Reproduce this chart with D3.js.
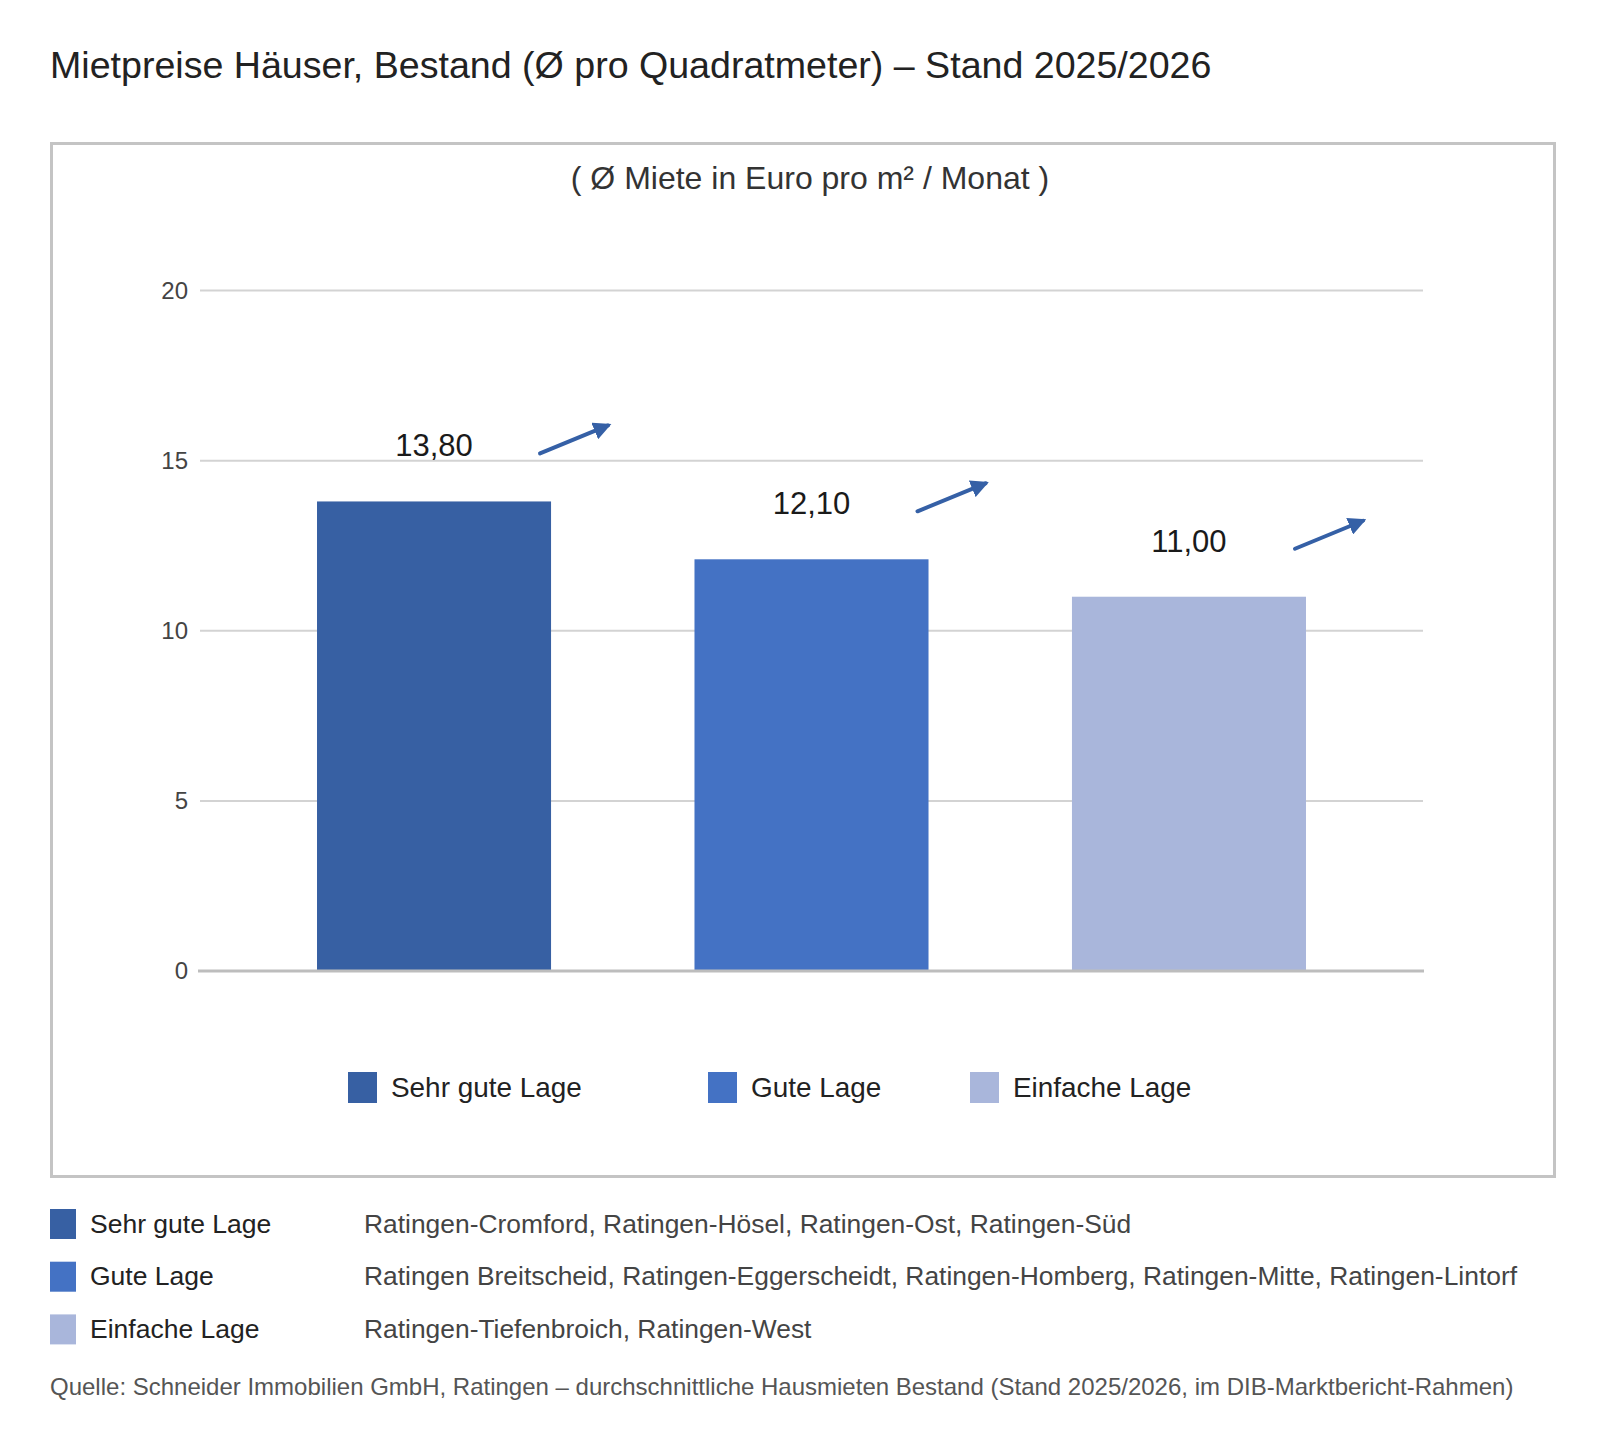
<!DOCTYPE html>
<html>
<head>
<meta charset="utf-8">
<script src="https://cdn.jsdelivr.net/npm/d3@7"></script>
<style>
  body { margin: 0; background: #fff; }
  svg { display: block; font-family: "Liberation Sans", Arial, sans-serif; }
</style>
</head>
<body>
<svg id="chart" width="1605" height="1449"></svg>
<script>
// data
const categories = ["Sehr gute Lage", "Gute Lage", "Einfache Lage"]
const values = [13.80, 12.10, 11.00]
const valueLabels = ["13,80", "12,10", "11,00"]
const colors = ["#3760a3", "#4472c4", "#a9b6db"]
const yTicks = [0, 5, 10, 15, 20]
const districts = [
    "Ratingen-Cromford, Ratingen-Hösel, Ratingen-Ost, Ratingen-Süd",
    "Ratingen Breitscheid, Ratingen-Eggerscheidt, Ratingen-Homberg, Ratingen-Mitte, Ratingen-Lintorf",
    "Ratingen-Tiefenbroich, Ratingen-West"
]
const title = "Mietpreise Häuser, Bestand (Ø pro Quadratmeter) – Stand 2025/2026"
const subtitle = "( Ø Miete in Euro pro m² / Monat )"
const source = "Quelle: Schneider Immobilien GmbH, Ratingen – durchschnittliche Hausmieten Bestand (Stand 2025/2026, im DIB-Marktbericht-Rahmen)"

let svg = d3.select("#chart")

svg.append("text")
    .attr("x", 50).attr("y", 78)
    .attr("font-size", 37.6).attr("fill", "#222")
    .text(title)

// frame
svg.append("rect")
    .attr("x", 51.5).attr("y", 143.5)
    .attr("width", 1503).attr("height", 1033)
    .attr("fill", "none").attr("stroke", "#c4c4c4").attr("stroke-width", 3)

svg.append("text")
    .attr("x", 810).attr("y", 189)
    .attr("text-anchor", "middle")
    .attr("font-size", 32).attr("fill", "#333")
    .text(subtitle)

let x = d3.scaleBand()
    .domain(categories)
    .range([200, 1423])
    .paddingInner(0.38)
    .paddingOuter(0.31)

let y = d3.scaleLinear()
    .domain([0, 20])
    .range([971, 290.5])

// grid
let grid = svg.append("g")
grid.selectAll("line")
    .data(yTicks.filter(d => d > 0))
    .join("line")
    .attr("x1", 200).attr("x2", 1423)
    .attr("y1", d => y(d)).attr("y2", d => y(d))
    .attr("stroke", "#d3d3d3").attr("stroke-width", 2)

let yAxis = svg.append("g")
    .attr("transform", "translate(199,0)")
    .call(d3.axisLeft(y).tickValues(yTicks).tickSize(0).tickPadding(11))
yAxis.select(".domain").remove()
yAxis.selectAll("text")
    .attr("font-size", 24).attr("fill", "#444")
    .attr("font-family", "Liberation Sans, Arial, sans-serif")

// bars
svg.append("g").selectAll("rect")
    .data(values)
    .join("rect")
    .attr("x", (d, i) => x(categories[i]))
    .attr("width", x.bandwidth())
    .attr("y", d => y(d))
    .attr("height", d => y(0) - y(d))
    .attr("fill", (d, i) => colors[i])

// zero line
svg.append("line")
    .attr("x1", 198).attr("x2", 1424)
    .attr("y1", y(0)).attr("y2", y(0))
    .attr("stroke", "#bdbdbd").attr("stroke-width", 3)

// value labels + arrows
svg.append("defs").append("marker")
    .attr("id", "head")
    .attr("viewBox", "0 0 10 10")
    .attr("refX", 8).attr("refY", 5)
    .attr("markerWidth", 4.5).attr("markerHeight", 4.5)
    .attr("orient", "auto")
    .append("path")
    .attr("d", "M0,0 L10,5 L0,10 Z")
    .attr("fill", "#3560a6")

let labels = svg.append("g")
labels.selectAll("text")
    .data(values)
    .join("text")
    .attr("x", (d, i) => x(categories[i]) + x.bandwidth() / 2)
    .attr("y", d => y(d) - 45)
    .attr("text-anchor", "middle")
    .attr("font-size", 31).attr("fill", "#1a1a1a")
    .text((d, i) => valueLabels[i])

labels.selectAll("line")
    .data(values)
    .join("line")
    .attr("x1", (d, i) => x(categories[i]) + x.bandwidth() / 2 + 106)
    .attr("x2", (d, i) => x(categories[i]) + x.bandwidth() / 2 + 174)
    .attr("y1", d => y(d) - 48)
    .attr("y2", d => y(d) - 76)
    .attr("stroke", "#3560a6").attr("stroke-width", 4)
    .attr("stroke-linecap", "round")
    .attr("marker-end", "url(#head)")

// legend inside the frame
const legendX = [348, 708, 970]
let legend = svg.append("g")
    .selectAll("g")
    .data(categories)
    .join("g")
    .attr("transform", (d, i) => `translate(${legendX[i]},1072)`)
legend.append("rect")
    .attr("width", 29).attr("height", 31)
    .attr("fill", (d, i) => colors[i])
legend.append("text")
    .attr("x", 43).attr("y", 24.5)
    .attr("font-size", 27.9).attr("fill", "#222")
    .text(d => d)

// district table
let rows = svg.append("g")
    .selectAll("g")
    .data(categories)
    .join("g")
    .attr("transform", (d, i) => `translate(50,${1209 + i * 52.7})`)
rows.append("rect")
    .attr("width", 26).attr("height", 30)
    .attr("fill", (d, i) => colors[i])
rows.append("text")
    .attr("x", 40).attr("y", 23.5)
    .attr("font-size", 26.5).attr("fill", "#222")
    .text(d => d)
rows.append("text")
    .attr("x", 314).attr("y", 23.5)
    .attr("font-size", 26.4).attr("fill", "#444")
    .text((d, i) => districts[i])

svg.append("text")
    .attr("x", 50).attr("y", 1394.5)
    .attr("font-size", 24).attr("fill", "#555")
    .text(source)
</script>
</body>
</html>
